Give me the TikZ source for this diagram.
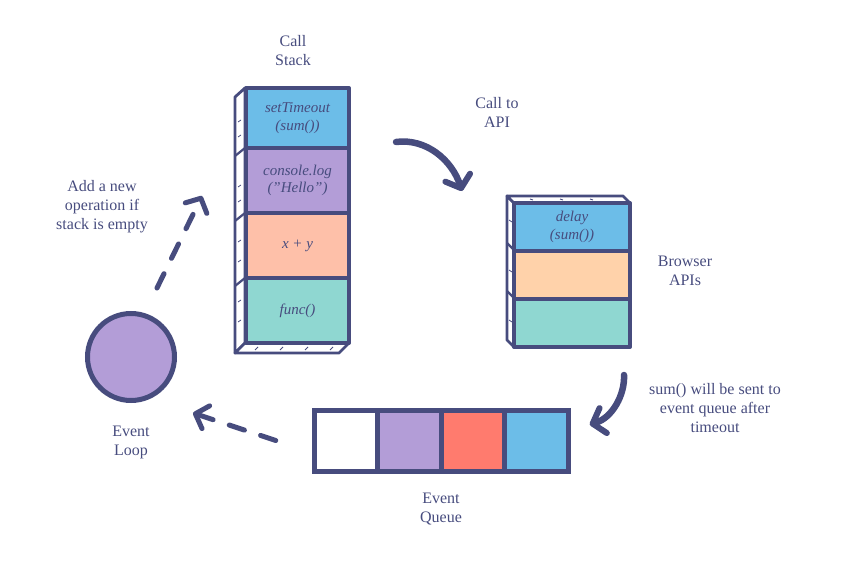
\documentclass[tikz,border=0pt]{standalone}
\usepackage{fontspec}
\setmainfont{Liberation Serif}
\usetikzlibrary{arrows.meta,calc}

\definecolor{ink}{RGB}{71,76,126}
\definecolor{skyblue}{RGB}{108,189,232}
\definecolor{lilac}{RGB}{179,157,215}
\definecolor{salmon}{RGB}{254,192,169}
\definecolor{mint}{RGB}{143,215,209}
\definecolor{apricot}{RGB}{255,210,170}
\definecolor{coral}{RGB}{255,123,110}

\tikzset{
  outline/.style={draw=ink, line width=4pt, line join=round},
  cell/.style={outline, inner sep=0pt, text=ink, align=center,
    font=\itshape\fontsize{15}{17.5}\selectfont},
  qcell/.style={draw=ink, line width=5pt, inner sep=0pt,
    minimum width=63.5pt, minimum height=61pt},
  side/.style={draw=ink, line width=2.8pt, fill=white, line join=round},
  tick/.style={draw=ink, line width=0.8pt},
  caption/.style={text=ink, align=center, font=\fontsize{16}{19}\selectfont},
  dasharrow/.style={draw=ink, line width=5pt, line cap=round,
    dash pattern=on 16pt off 17pt,
    -{Straight Barb[length=11pt,width=24pt,line width=5pt,round]}},
  brusharrow/.style={draw=ink, line width=6.5pt, line cap=round,
    -{Straight Barb[length=11pt,width=26pt,line width=6pt,round]}},
}

\begin{document}
\begin{tikzpicture}[x=1pt,y=-1pt]
\useasboundingbox (0,0) rectangle (849,569);

% ---------- call stack ----------
\draw[side] (235,97) -- (245,88) -- (245,343) -- (235,353) -- cycle;
\draw[side] (235,353) -- (245,343) -- (349,343) -- (339,353) -- cycle;
\foreach \y in {148,213,278} \draw[ink, line width=2.2pt] (235,\y+8) -- (245,\y);
\foreach \y in {120,135,185,200,240,260,300,320} \draw[tick] (238,\y+2) -- (241,\y);
\foreach \x in {255,280,305,330} \draw[tick] (\x,350) -- (\x+3,347);

\node[cell, fill=skyblue, minimum width=103pt, minimum height=60pt] (st) at (297.5,118) {setTimeout\\(sum())};
\node[cell, fill=lilac,   minimum width=103pt, minimum height=65pt] (cl) at (297.5,180.5) {console.log\\(\symbol{34}Hello\symbol{34})};
\node[cell, fill=salmon,  minimum width=103pt, minimum height=65pt] (xy) at (297.5,245.5) {x + y};
\node[cell, fill=mint,    minimum width=103pt, minimum height=65pt] (fn) at (297.5,310.5) {func()};

% ---------- browser APIs ----------
\draw[side] (507,196) -- (514,203) -- (514,347) -- (507,340) -- cycle;
\draw[side] (507,196) -- (623,196) -- (630,203) -- (514,203) -- cycle;
\foreach \y in {250,298} \draw[ink, line width=2.2pt] (507,\y-7) -- (514,\y);
\foreach \y in {220,270,320} \draw[tick] (509,\y) -- (512,\y+2);
\foreach \x in {530,560,590} \draw[tick] (\x,199) -- (\x+3,200);

\node[cell, fill=skyblue, minimum width=116pt, minimum height=48pt] (dl) at (572,227) {delay\\(sum())};
\node[cell, fill=apricot, minimum width=116pt, minimum height=48pt] (b2) at (572,275) {};
\node[cell, fill=mint,    minimum width=116pt, minimum height=48pt] (b3) at (572,323) {};

% ---------- event queue ----------
\node[qcell, fill=white]   (q1) at (346,440.5) {};
\node[qcell, fill=lilac]   (q2) at (409.5,440.5) {};
\node[qcell, fill=coral]   (q3) at (473,440.5) {};
\node[qcell, fill=skyblue] (q4) at (536.5,440.5) {};

% ---------- event loop ----------
\node[circle, draw=ink, line width=5pt, fill=lilac, minimum size=87pt, inner sep=0pt] (loop) at (131,357) {};

% ---------- captions ----------
\node[caption] (lstack) at (293,51)  {Call\\Stack};
\node[caption] (lcall)  at (497,112) {Call to\\API};
\node[caption] (lbrow)  at (685,271) {Browser\\APIs};
\node[caption] (lsent)  at (715,408) {sum() will be sent to\\event queue after\\timeout};
\node[caption] (lqueue) at (441,509) {Event\\Queue};
\node[caption] (lloop)  at (131,442) {Event\\Loop};
\node[caption] (ladd)   at (102,207) {Add a new\\operation if\\stack is empty};

% ---------- connectors ----------
\coordinate (loopout) at ($(loop)+(26,-69)$);
\coordinate (stackin) at ($(st.west)+(-42,78)$);
\draw[dasharrow] (loopout) -- (stackin);

\coordinate (queueout) at ($(q1.west)+(-36,0)$);
\coordinate (loopin) at ($(loop.east)+(16,56)$);
\draw[dasharrow] (queueout) -- (loopin);

\coordinate (callout) at ($(st.east)+(45,24)$);
\coordinate (apiin) at ($(dl.north west)+(-50,-10)$);
\draw[brusharrow] (callout) .. controls (426,138) and (452,160) .. (apiin);

\coordinate (apiout) at ($(b3.south east)+(-8,26)$);
\coordinate (queuein) at ($(q4.north east)+(19,17)$);
\draw[brusharrow] (apiout) .. controls (625,395) and (612,418) .. (queuein);
\end{tikzpicture}
\end{document}
